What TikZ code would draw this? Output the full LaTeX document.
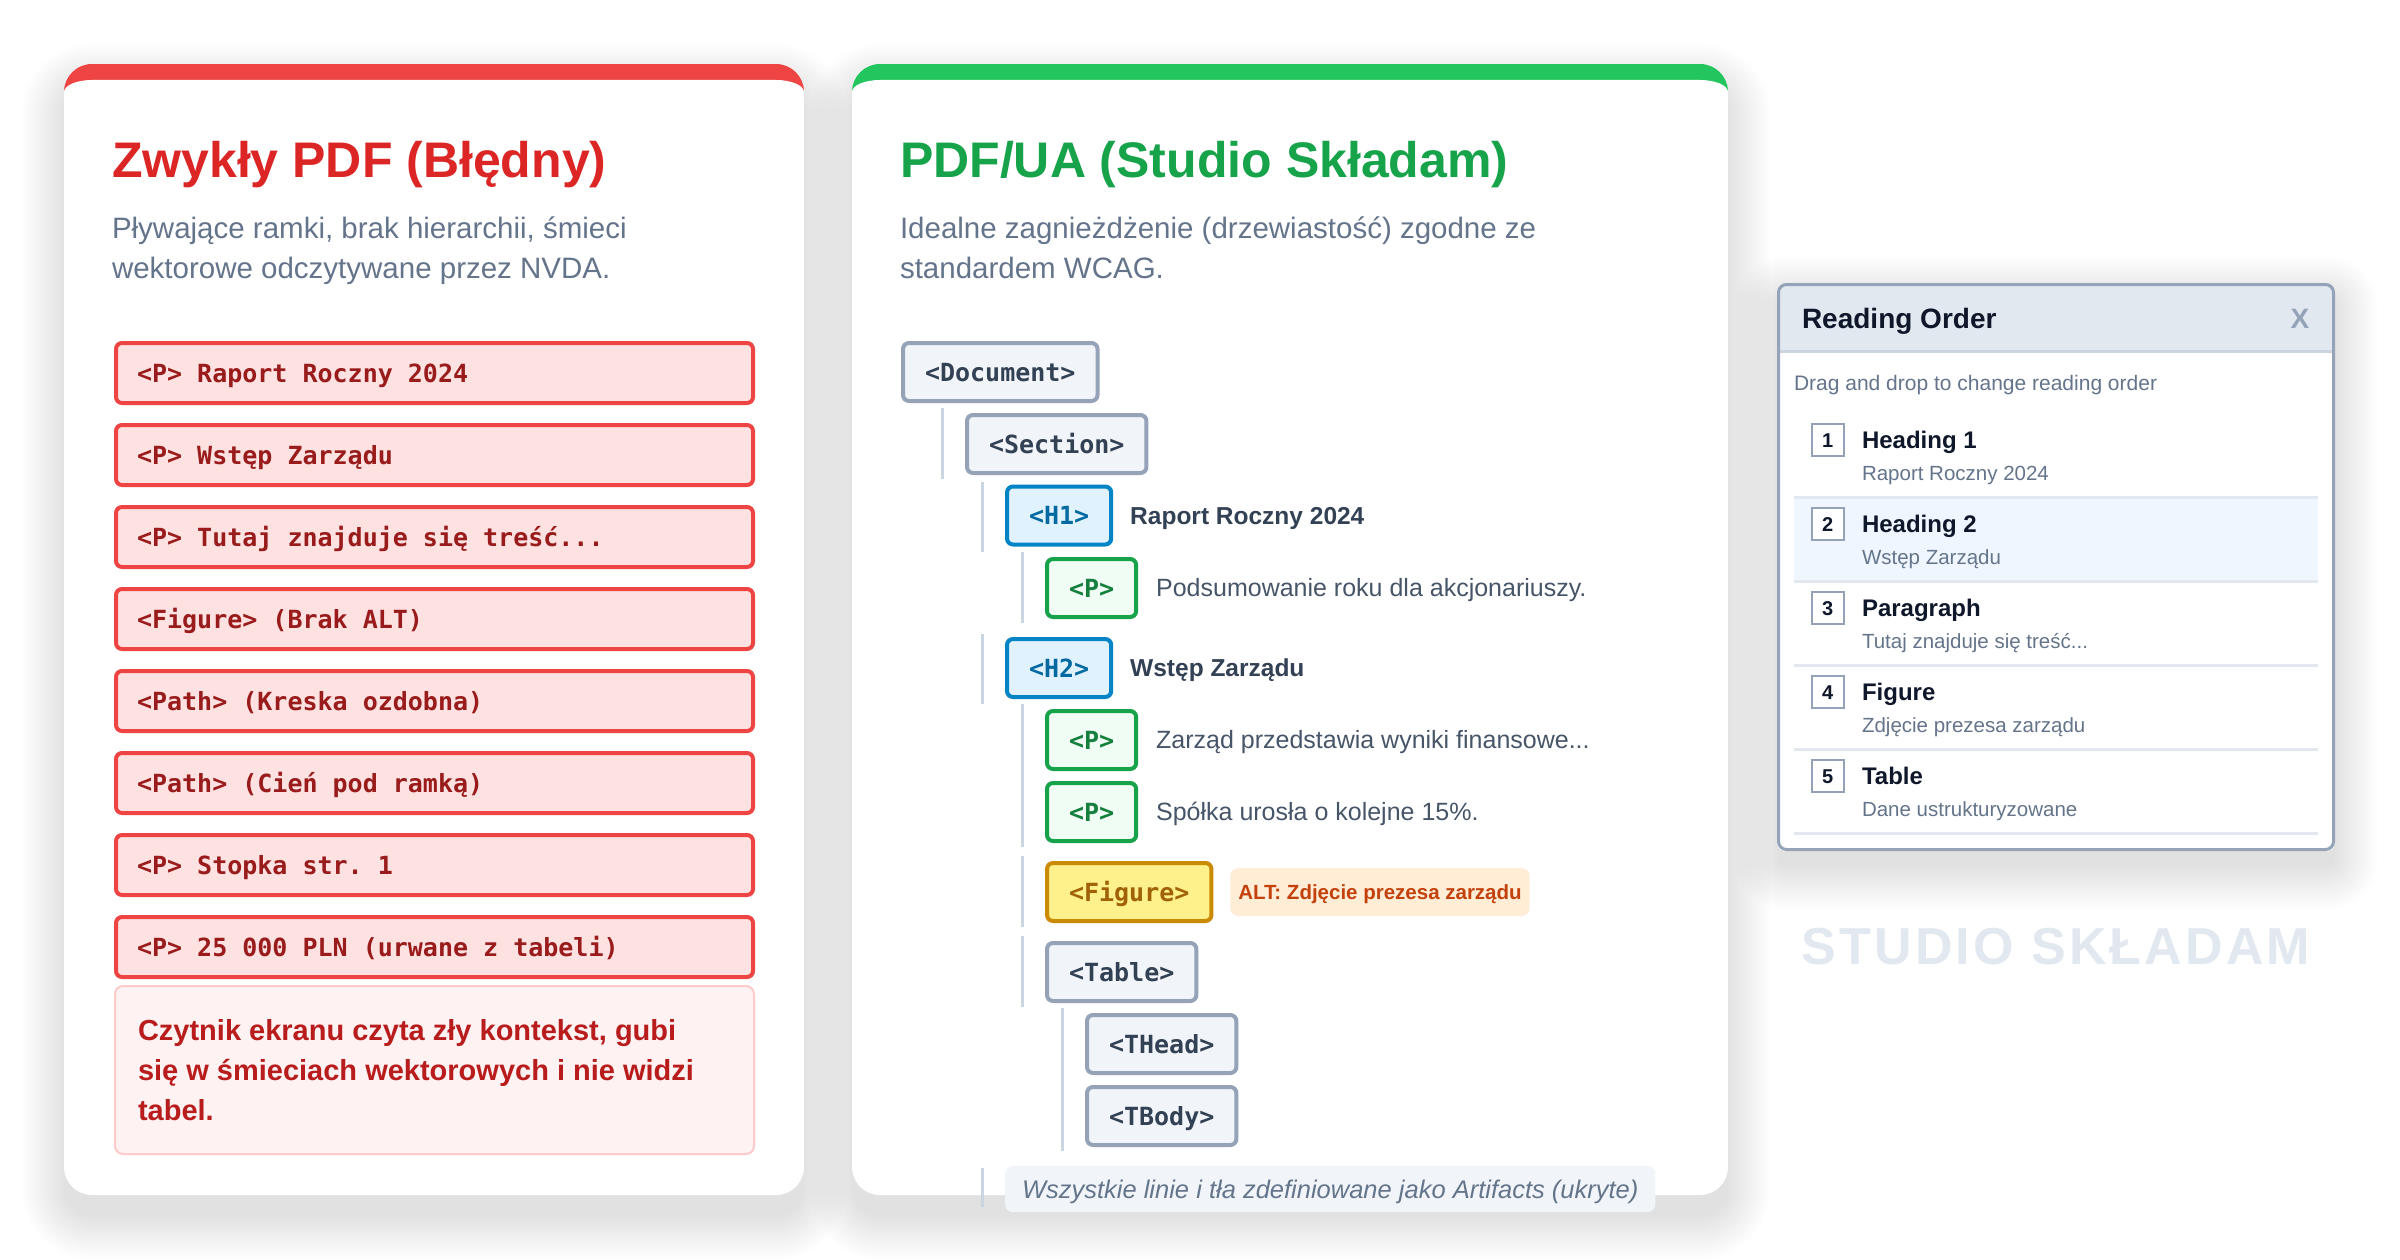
\documentclass[tikz,border=0pt]{standalone}
\usepackage{fontspec}
\setmainfont{Liberation Sans}
\newfontfamily\monof{DejaVu Sans Mono}
\newfontfamily\wmfont[LetterSpace=6]{Liberation Sans}
\usetikzlibrary{calc}
\newcommand\fsz[2]{\fontsize{#1}{#2}\selectfont}
\newcommand\msp{\hspace{15.05pt}}
\definecolor{redbar}{HTML}{EF4444}
\definecolor{redtitle}{HTML}{DC2626}
\definecolor{redfill}{HTML}{FEE2E2}
\definecolor{redtext}{HTML}{991B1B}
\definecolor{notefill}{HTML}{FEF2F2}
\definecolor{notebord}{HTML}{FECACA}
\definecolor{notetext}{HTML}{B91C1C}
\definecolor{greenbar}{HTML}{22C55E}
\definecolor{greentitle}{HTML}{16A34A}
\definecolor{subgray}{HTML}{64748B}
\definecolor{slatefill}{HTML}{F1F5F9}
\definecolor{slatebord}{HTML}{94A3B8}
\definecolor{slatetext}{HTML}{334155}
\definecolor{slatesix}{HTML}{475569}
\definecolor{hfill}{HTML}{E0F2FE}
\definecolor{hbord}{HTML}{0284C7}
\definecolor{htext}{HTML}{0369A1}
\definecolor{pfill}{HTML}{F0FDF4}
\definecolor{pbord}{HTML}{16A34A}
\definecolor{ptext}{HTML}{15803D}
\definecolor{ffill}{HTML}{FEF08A}
\definecolor{fbord}{HTML}{CA8A04}
\definecolor{ftext}{HTML}{A16207}
\definecolor{altfill}{HTML}{FFEDD5}
\definecolor{alttext}{HTML}{C2410C}
\definecolor{treeline}{HTML}{CBD5E1}
\definecolor{hdrfill}{HTML}{E2E8F0}
\definecolor{sepline}{HTML}{E2E8F0}
\definecolor{selfill}{HTML}{EFF6FF}
\definecolor{darktext}{HTML}{0F172A}
\definecolor{wmark}{HTML}{E2E8F0}
% soft shadow: x1 y1 x2 y2 radius offset
\newcommand\softshadow[6]{%
  \foreach \k in {0,1,2,3,4,5,6,7,8,9,10,11,12,13,14}{%
    \pgfmathsetmacro\shE{3*\k}%
    \pgfmathsetmacro\shR{#5+3*\k}%
    \fill[black,opacity=0.0075,rounded corners=\shR pt] ({#1-\shE},{#2-\shE+#6}) rectangle ({#3+\shE},{#4+\shE+#6});
  }}
% card with coloured top border: x1 y1 x2 y2 colour
\newcommand\cardshape[5]{%
  \begin{scope}
    \clip[rounded corners=28pt] (#1,#2) rectangle (#3,#4);
    \fill[#5] (#1,#2) rectangle (#3,{#2+40});
    \fill[white] (#1,{#4+5}) -- (#1,{#2+28})
      .. controls (#1,{#2+21.4}) and ({#1+12.5},{#2+16}) .. ({#1+28},{#2+16})
      -- ({#3-28},{#2+16})
      .. controls ({#3-12.5},{#2+16}) and (#3,{#2+21.4}) .. (#3,{#2+28})
      -- (#3,{#4+5}) -- cycle;
  \end{scope}}
\newcommand\monobold{\monof\bfseries\fsz{25}{30}\spaceskip=15.05pt\relax\xspaceskip=15.05pt\relax}
\begin{document}
\begin{tikzpicture}[x=1pt,y=-1pt,
  lbox/.style={draw=redbar,line width=4pt,fill=redfill,rounded corners=6pt,minimum width=637pt,minimum height=60pt,text width=595pt,align=left,inner xsep=21pt,inner ysep=0pt,outer sep=0pt,font=\monobold,text=redtext,text height=18.2pt,text depth=0pt,anchor=north west},
  tbox/.style={draw,line width=4pt,rounded corners=6pt,minimum height=58pt,inner xsep=22pt,inner ysep=0pt,outer sep=0pt,font=\monobold,text height=18.2pt,text depth=0pt,anchor=west},
  gbox/.style={tbox,draw=slatebord,fill=slatefill,text=slatetext},
  hbox/.style={tbox,draw=hbord,fill=hfill,text=htext},
  pbox/.style={tbox,draw=pbord,fill=pfill,text=ptext},
  figbox/.style={tbox,draw=fbord,fill=ffill,text=ftext},
  tline/.style={draw=treeline,line width=3pt},
  lab/.style={anchor=west,inner sep=0pt,outer sep=0pt,text depth=0pt},
  titlelab/.style={lab,text height=35.8pt,font=\bfseries\fsz{50}{60}},
  sublab/.style={lab,text height=21.1pt,font=\fsz{29.5}{36},text=subgray},
  notelab/.style={lab,text height=20.8pt,font=\bfseries\fsz{29}{34},text=notetext},
  treebold/.style={lab,text height=17.5pt,font=\bfseries\fsz{24.5}{30},text=slatetext},
  treereg/.style={lab,text height=17.9pt,font=\fsz{25}{30},text=slatesix},
  numbox/.style={draw=slatebord,line width=2.5pt,fill=white,minimum size=32pt,inner sep=0pt,font=\bfseries\fsz{20}{24},text=darktext,text height=14.3pt,text depth=0pt},
  itemhead/.style={lab,text height=17.2pt,font=\bfseries\fsz{24}{30},text=darktext},
  itemsub/.style={lab,text height=14.7pt,font=\fsz{20.5}{26},text=subgray}
]
\useasboundingbox (0,0) rectangle (2400,1260);
\fill[white] (0,0) rectangle (2400,1260);

% shadows
\softshadow{64}{64}{804}{1195}{28}{22}
\softshadow{852}{64}{1728}{1195}{28}{22}
\softshadow{1777}{283}{2335}{851}{8}{16}

% cards
\cardshape{64}{64}{804}{1195}{redbar}
\cardshape{852}{64}{1728}{1195}{greenbar}

% ---------- left card ----------
\node[titlelab,text=redtitle] (t1) at (112,160) {Zwykły PDF (Błędny)};
\node[sublab] (s1a) at (112,228) {Pływające ramki, brak hierarchii, śmieci};
\node[sublab] (s1b) at (112,268) {wektorowe odczytywane przez NVDA.};

\node[lbox] (lb1) at (116,343) {<P>\msp Raport\msp Roczny\msp 2024};
\node[lbox] (lb2) at (116,425) {<P>\msp Wstęp\msp Zarządu};
\node[lbox] (lb3) at (116,507) {<P>\msp Tutaj\msp znajduje\msp się\msp treść...};
\node[lbox] (lb4) at (116,589) {<Figure>\msp (Brak\msp ALT)};
\node[lbox] (lb5) at (116,671) {<Path>\msp (Kreska\msp ozdobna)};
\node[lbox] (lb6) at (116,753) {<Path>\msp (Cień\msp pod\msp ramką)};
\node[lbox] (lb7) at (116,835) {<P>\msp Stopka\msp str.\msp 1};
\node[lbox] (lb8) at (116,917) {<P>\msp 25\msp 000\msp PLN\msp (urwane\msp z\msp tabeli)};

\node[draw=notebord,line width=2pt,fill=notefill,rounded corners=8pt,minimum width=639pt,minimum height=168pt,outer sep=0pt,inner sep=0pt,anchor=north west] (note) at (115,986) {};
\node[notelab] (n1) at (138,1030) {Czytnik ekranu czyta zły kontekst, gubi};
\node[notelab] (n2) at (138,1070) {się w śmieciach wektorowych i nie widzi};
\node[notelab] (n3) at (138,1110) {tabel.};

% ---------- middle card ----------
\node[titlelab,text=greentitle] (t2) at (900,160) {PDF/UA (Studio Składam)};
\node[sublab] (s2a) at (900,228) {Idealne zagnieżdżenie (drzewiastość) zgodne ze};
\node[sublab] (s2b) at (900,268) {standardem WCAG.};

\node[gbox] (doc) at (903,372) {<Document>};
\node[gbox] (sec) at (967,444) {<Section>};
\node[hbox] (h1) at (1007,515.5) {<H1>};
\node[pbox] (p1) at (1047,588) {<P>};
\node[hbox] (h2) at (1007,668) {<H2>};
\node[pbox] (p2) at (1047,740) {<P>};
\node[pbox] (p3) at (1047,812) {<P>};
\node[figbox] (fig) at (1047,892) {<Figure>};
\node[gbox] (tab) at (1047,972) {<Table>};
\node[gbox] (thead) at (1087,1044) {<THead>};
\node[gbox] (tbody) at (1087,1116) {<TBody>};

\draw[tline] ($(sec.north west)+(-25,-7)$) -- ($(sec.south west)+(-25,6)$);
\draw[tline] ($(h1.north west)+(-25,-5)$) -- ($(h1.south west)+(-25,7)$);
\draw[tline] ($(p1.north west)+(-25,-7)$) -- ($(p1.south west)+(-25,6)$);
\draw[tline] ($(h2.north west)+(-25,-5)$) -- ($(h2.south west)+(-25,7)$);
\draw[tline] ($(p2.north west)+(-25,-7)$) -- ($(p3.south west)+(-25,6)$);
\draw[tline] ($(fig.north west)+(-25,-7)$) -- ($(fig.south west)+(-25,6)$);
\draw[tline] ($(tab.north west)+(-25,-7)$) -- ($(tab.south west)+(-25,6)$);
\draw[tline] ($(thead.north west)+(-25,-7)$) -- ($(tbody.south west)+(-25,6)$);

\node[treebold] (h1l) at ($(h1.east)+(19,0)$) {Raport Roczny 2024};
\node[treereg] (p1l) at ($(p1.east)+(20,0)$) {Podsumowanie roku dla akcjonariuszy.};
\node[treebold] (h2l) at ($(h2.east)+(19,0)$) {Wstęp Zarządu};
\node[treereg] (p2l) at ($(p2.east)+(20,0)$) {Zarząd przedstawia wyniki finansowe...};
\node[treereg] (p3l) at ($(p3.east)+(20,0)$) {Spółka urosła o kolejne 15\%.};
\node[anchor=west,fill=altfill,rounded corners=8pt,minimum height=48pt,inner xsep=8pt,inner ysep=0pt,outer sep=0pt,text height=14.7pt,text depth=0pt,font=\bfseries\fsz{20.5}{24},text=alttext] (alt) at ($(fig.east)+(19,0)$) {ALT: Zdjęcie prezesa zarządu};

\node[anchor=west,fill=slatefill,rounded corners=8pt,minimum height=46pt,inner xsep=17pt,inner ysep=0pt,outer sep=0pt,text height=18.3pt,text depth=0pt,font=\itshape\fsz{25.5}{30},text=subgray] (foot) at (1005,1189) {Wszystkie linie i tła zdefiniowane jako Artifacts (ukryte)};
\draw[tline] ($(foot.north west)+(-23,2)$) -- ($(foot.south west)+(-23,-5)$);

% ---------- reading order panel ----------
\begin{scope}
  \clip[rounded corners=8pt] (1777,283) rectangle (2335,851);
  \fill[white] (1777,283) rectangle (2335,851);
  \fill[hdrfill] (1777,283) rectangle (2335,351);
  \draw[treeline,line width=3pt] (1777,351) -- (2335,351);
\end{scope}
\draw[slatebord,line width=3pt,rounded corners=8pt] (1778.5,284.5) rectangle (2333.5,849.5);

\node[lab,text height=20pt,font=\bfseries\fsz{28}{34},text=darktext] (rot) at (1802,318) {Reading Order};
\node[inner sep=0pt,text height=20pt,text depth=0pt,font=\bfseries\fsz{28}{34},text=slatebord] (rox) at (2300,318) {X};
\node[lab,text height=15pt,font=\fsz{21}{26},text=subgray] (drag) at (1794,383) {Drag and drop to change reading order};

\fill[selfill] (1794,497) rectangle (2318,581);
\draw[sepline,line width=3pt] (1794,497) -- (2318,497);
\draw[sepline,line width=3pt] (1794,581) -- (2318,581);
\draw[sepline,line width=3pt] (1794,665) -- (2318,665);
\draw[sepline,line width=3pt] (1794,749) -- (2318,749);
\draw[sepline,line width=3pt] (1794,833) -- (2318,833);

\node[numbox] (num1) at (1827.75,440) {1};
\node[itemhead] (hd1) at (1862,440) {Heading 1};
\node[itemsub] (sb1) at (1862,473) {Raport Roczny 2024};
\node[numbox] (num2) at (1827.75,524) {2};
\node[itemhead] (hd2) at (1862,524) {Heading 2};
\node[itemsub] (sb2) at (1862,557) {Wstęp Zarządu};
\node[numbox] (num3) at (1827.75,608) {3};
\node[itemhead] (hd3) at (1862,608) {Paragraph};
\node[itemsub] (sb3) at (1862,641) {Tutaj znajduje się treść...};
\node[numbox] (num4) at (1827.75,692) {4};
\node[itemhead] (hd4) at (1862,692) {Figure};
\node[itemsub] (sb4) at (1862,725) {Zdjęcie prezesa zarządu};
\node[numbox] (num5) at (1827.75,776) {5};
\node[itemhead] (hd5) at (1862,776) {Table};
\node[itemsub] (sb5) at (1862,809) {Dane ustrukturyzowane};

\node[inner sep=0pt,text height=37.2pt,text depth=0pt,font=\wmfont\bfseries\fsz{52}{60},text=wmark] (wm) at (2056,946) {STUDIO SKŁADAM};
\end{tikzpicture}
\end{document}
